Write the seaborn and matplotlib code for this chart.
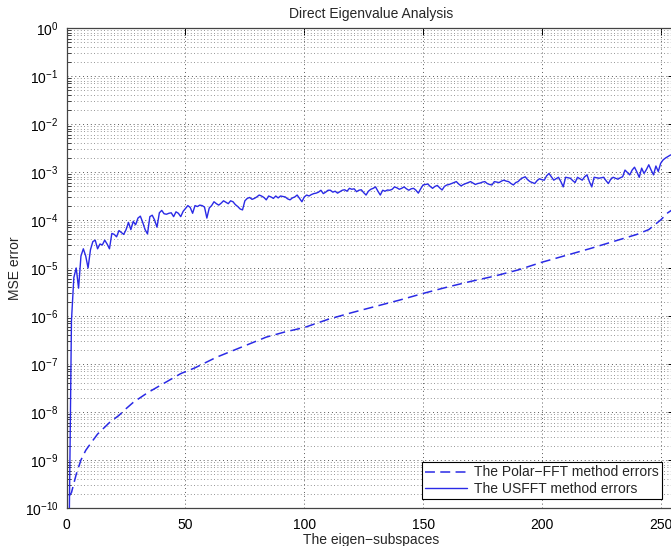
import numpy as np
import pandas as pd
import matplotlib
matplotlib.use("Agg")
import matplotlib.pyplot as plt
import seaborn as sns
from matplotlib.ticker import NullFormatter, FixedLocator, LogFormatterSciNotation

# ---------------- data ----------------
title = "Direct Eigenvalue Analysis"
x_label = "The eigen\u2212subspaces"
y_label = "MSE error"
polar_label = "The Polar\u2212FFT method errors"
usfft_label = "The USFFT method errors"

x_ticks = [0, 50, 100, 150, 200, 250]
y_decades = [-10, -9, -8, -7, -6, -5, -4, -3, -2, -1, 0]

# USFFT method errors: log10 of MSE per eigen-subspace index
usfft_x = list(range(1, 257))
usfft_log10 = [
    -10.6, -6.1, -5.2, -5.0, -5.42, -4.75, -4.6, -4.75, -5.0, -4.62,
    -4.45, -4.42, -4.6, -4.5, -4.52, -4.42, -4.5, -4.6, -4.28, -4.3,
    -4.35, -4.22, -4.26, -4.3, -4.2, -4.05, -4.2, -4.03, -4.1, -3.96,
    -3.92, -4.05, -4.2, -4.29, -3.93, -3.9, -4.0, -4.15, -3.85, -3.8,
    -3.87, -3.88, -3.86, -3.85, -3.93, -3.83, -3.86, -3.93, -3.82, -3.76,
    -3.7, -3.74, -3.86, -3.7, -3.72, -3.69, -3.7, -3.73, -3.96, -3.75,
    -3.7, -3.62, -3.66, -3.69, -3.65, -3.6, -3.63, -3.66, -3.6, -3.62,
    -3.68, -3.72, -3.77, -3.79, -3.6, -3.55, -3.53, -3.57, -3.55, -3.52,
    -3.48, -3.5, -3.53, -3.58, -3.5, -3.52, -3.55, -3.5, -3.54, -3.5,
    -3.51, -3.52, -3.56, -3.58, -3.54, -3.52, -3.48, -3.55, -3.62, -3.52,
    -3.48, -3.5, -3.47, -3.45, -3.44, -3.42, -3.38, -3.45, -3.42, -3.38,
    -3.38, -3.42, -3.4, -3.44, -3.41, -3.38, -3.37, -3.4, -3.34, -3.36,
    -3.35, -3.41, -3.38, -3.37, -3.43, -3.48, -3.4, -3.36, -3.34, -3.31,
    -3.4, -3.48, -3.38, -3.4, -3.375, -3.38, -3.36, -3.31, -3.33, -3.36,
    -3.34, -3.31, -3.35, -3.38, -3.35, -3.34, -3.38, -3.44, -3.35, -3.27,
    -3.26, -3.25, -3.3, -3.34, -3.3, -3.28, -3.33, -3.375, -3.3, -3.27,
    -3.26, -3.24, -3.22, -3.2, -3.25, -3.29, -3.26, -3.24, -3.22, -3.2,
    -3.23, -3.26, -3.24, -3.23, -3.21, -3.2, -3.24, -3.26, -3.27, -3.2,
    -3.21, -3.22, -3.19, -3.17, -3.19, -3.2, -3.24, -3.27, -3.22, -3.2,
    -3.15, -3.12, -3.1, -3.16, -3.2, -3.22, -3.24, -3.18, -3.14, -3.16,
    -3.17, -3.08, -3.03, -3.1, -3.17, -3.14, -3.11, -3.2, -3.31, -3.11,
    -3.12, -3.13, -3.18, -3.22, -3.11, -3.14, -3.17, -3.1, -3.06, -3.2,
    -3.31, -3.11, -3.12, -3.13, -3.12, -3.11, -3.18, -3.24, -3.15, -3.11,
    -3.13, -3.15, -3.12, -3.1, -2.96, -3.01, -3.06, -2.96, -2.9, -3.0,
    -3.11, -2.92, -3.03, -2.95, -2.85, -2.96, -3.06, -2.875, -2.99, -2.82,
    -2.75, -2.71, -2.68, -2.65, -2.63, -2.6,
]

# Polar-FFT method errors (smooth curve), log10 of MSE
polar_x = [1, 2, 4, 6, 8, 10, 13, 18, 22, 25, 28, 34, 41, 48, 54, 63, 70,
           77, 84, 92, 100, 110, 120, 130, 140, 150, 160, 170, 180, 190,
           200, 210, 220, 230, 240, 245, 250, 253, 256]
polar_log10 = [-9.75, -9.68, -9.3, -9.0, -8.8, -8.66, -8.46, -8.22, -8.07,
               -7.93, -7.8, -7.6, -7.4, -7.2, -7.08, -6.86, -6.72, -6.58,
               -6.44, -6.33, -6.24, -6.07, -5.93, -5.8, -5.67, -5.53, -5.4,
               -5.28, -5.17, -5.04, -4.88, -4.74, -4.6, -4.45, -4.3, -4.2,
               -4.0, -3.85, -3.75]

df_usfft = pd.DataFrame({"x": usfft_x, "err": np.power(10.0, usfft_log10)})
df_polar = pd.DataFrame({"x": polar_x, "err": np.power(10.0, polar_log10)})

# ---------------- style ----------------
sns.set_style("white")
plt.rcParams["font.family"] = ["Liberation Sans", "DejaVu Sans"]
plt.rcParams["font.size"] = 10

line_color = "#2a2ae6"

fig = plt.figure(figsize=(6.71, 5.46), dpi=100)
# right edge deliberately extends past the canvas (reference is cropped)
ax = fig.add_axes([66.7 / 671, 38 / 546, 608.2 / 671, 480 / 546])

sns.lineplot(data=df_polar, x="x", y="err", ax=ax, color=line_color,
             linewidth=1.1, label=polar_label)
ax.lines[-1].set_dashes((6.5, 3.5))
sns.lineplot(data=df_usfft, x="x", y="err", ax=ax, color=line_color,
             linewidth=1.0, label=usfft_label)

ax.set_yscale("log")
ax.set_ylim(1e-10, 1)
ax.set_xlim(0, 256)
ax.xaxis.set_major_locator(FixedLocator(x_ticks))
major_y = [10.0 ** d for d in y_decades]
minor_y = [m * 10.0 ** d for d in y_decades[:-1] for m in range(2, 10)]
ax.yaxis.set_major_locator(FixedLocator(major_y))
ax.yaxis.set_major_formatter(LogFormatterSciNotation())
ax.yaxis.set_minor_locator(FixedLocator(minor_y))
ax.yaxis.set_minor_formatter(NullFormatter())

ax.grid(True, which="major", axis="both", linestyle=(0, (1, 3)),
        linewidth=0.7, color="0.35")
ax.grid(True, which="minor", axis="y", linestyle=(0, (1, 3)),
        linewidth=0.6, color="0.45")

ax.tick_params(axis="both", which="major", direction="in", length=5,
               width=0.7, top=True, right=True, labelsize=10, colors="black")
ax.tick_params(axis="y", which="minor", direction="in", length=3,
               width=0.6, left=True, right=True)
ax.tick_params(axis="x", which="major", pad=7)
ax.tick_params(axis="y", which="major", pad=6)

for sp in ax.spines.values():
    sp.set_color("#444444")
    sp.set_linewidth(0.9)
    sp.set_visible(True)

ax.set_title(title, fontsize=10, pad=7)
ax.set_xlabel(x_label, fontsize=10, labelpad=1)
ax.set_ylabel(y_label, fontsize=10, labelpad=2)

leg = ax.legend(loc="lower right", bbox_to_anchor=(662 / 671, 47 / 546),
                bbox_transform=fig.transFigure, borderaxespad=0,
                fancybox=False, framealpha=1, edgecolor="black",
                fontsize=10, handlelength=3.0, borderpad=0.25,
                labelspacing=0.15, handletextpad=0.5)
leg.get_frame().set_linewidth(0.8)

fig.savefig("out.png", dpi=100)
